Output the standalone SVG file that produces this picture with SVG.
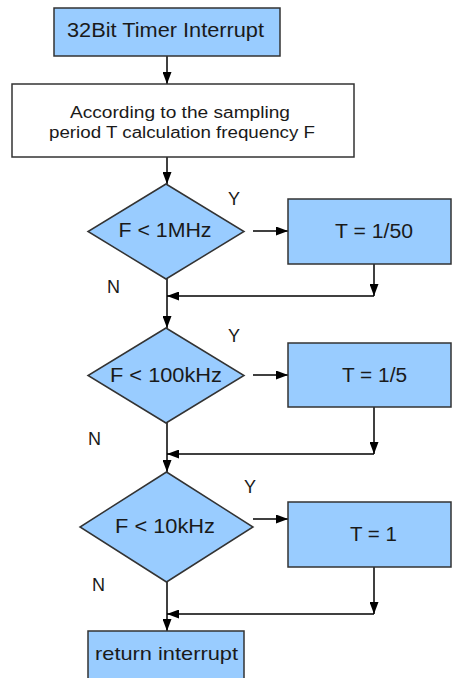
<svg xmlns="http://www.w3.org/2000/svg" width="452" height="678" viewBox="0 0 452 678">
<style>
.box{fill:#99ccff;stroke:#333;stroke-width:1.5}
.wbox{fill:#fff;stroke:#333;stroke-width:1.5}
.t{font-family:"Liberation Sans",Arial,sans-serif;fill:#1a1a1a;text-anchor:middle}
.lbl{font-family:"Liberation Sans",Arial,sans-serif;fill:#1a1a1a;font-size:18px}
.c{fill:none;stroke:#000;stroke-width:1.5;marker-end:url(#ah)}
</style>
<defs>
<marker id="ah" viewBox="0 0 12 9" refX="12" refY="4.5" markerWidth="12" markerHeight="9" markerUnits="userSpaceOnUse" orient="auto">
<path d="M0,0 L12,4.5 L0,9 z" fill="#000"/>
</marker>
</defs>
<rect width="452" height="678" fill="#fff"/>
<g id="connectors">
<path class="c" d="M167,56 V84"/>
<path class="c" d="M167,157 V184"/>
<path class="c" d="M253,231 H288"/>
<path class="c" d="M374,264 V296"/>
<path class="c" d="M374,296 H167"/>
<path class="c" d="M167,279 V328"/>
<path class="c" d="M253,375 H288"/>
<path class="c" d="M374,407 V454"/>
<path class="c" d="M374,454 H167"/>
<path class="c" d="M167,423 V472"/>
<path class="c" d="M253,519 H288"/>
<path class="c" d="M374,567 V614"/>
<path class="c" d="M374,614 H167"/>
<path class="c" d="M167,582 V631"/>
</g>
<g id="start">
<rect class="box" x="54" y="8" width="226" height="48"/>
<text class="t" x="165.5" y="37" font-size="19.5" textLength="197" lengthAdjust="spacingAndGlyphs">32Bit Timer Interrupt</text>
</g>
<g id="calc">
<rect class="wbox" x="12" y="84" width="342" height="73"/>
<text class="t" x="180" y="118" font-size="16" textLength="220" lengthAdjust="spacingAndGlyphs">According to the sampling</text>
<text class="t" x="182" y="138" font-size="16" textLength="266" lengthAdjust="spacingAndGlyphs">period T calculation frequency F</text>
</g>
<g id="d1">
<polygon class="box" points="166,184 244,231.5 166,279 88,231.5"/>
<text class="t" x="165" y="237" font-size="19.5" textLength="93" lengthAdjust="spacingAndGlyphs">F &lt; 1MHz</text>
</g>
<g id="b1">
<rect class="box" x="288" y="199" width="163" height="65"/>
<text class="t" x="374" y="238" font-size="19.5" textLength="78" lengthAdjust="spacingAndGlyphs">T = 1/50</text>
</g>
<g id="d2">
<polygon class="box" points="166,328 244,375.5 166,423 88,375.5"/>
<text class="t" x="166" y="382" font-size="19.5" textLength="112" lengthAdjust="spacingAndGlyphs">F &lt; 100kHz</text>
</g>
<g id="b2">
<rect class="box" x="288" y="343" width="163" height="64"/>
<text class="t" x="374.5" y="382" font-size="19.5" textLength="65" lengthAdjust="spacingAndGlyphs">T = 1/5</text>
</g>
<g id="d3">
<polygon class="box" points="166.5,472 253,527 166.5,582 80,527"/>
<text class="t" x="165" y="533" font-size="19.5" textLength="100" lengthAdjust="spacingAndGlyphs">F &lt; 10kHz</text>
</g>
<g id="b3">
<rect class="box" x="288" y="502" width="163" height="65"/>
<text class="t" x="373.5" y="541" font-size="19.5" textLength="47" lengthAdjust="spacingAndGlyphs">T = 1</text>
</g>
<g id="end">
<rect class="box" x="88" y="631" width="156" height="60"/>
<text class="t" x="166.5" y="660" font-size="19" textLength="143" lengthAdjust="spacingAndGlyphs">return interrupt</text>
</g>
<g id="labels">
<text class="lbl" x="228" y="205">Y</text>
<text class="lbl" x="107" y="293">N</text>
<text class="lbl" x="228" y="342">Y</text>
<text class="lbl" x="88" y="445">N</text>
<text class="lbl" x="244" y="493">Y</text>
<text class="lbl" x="92" y="591">N</text>
</g>
</svg>
